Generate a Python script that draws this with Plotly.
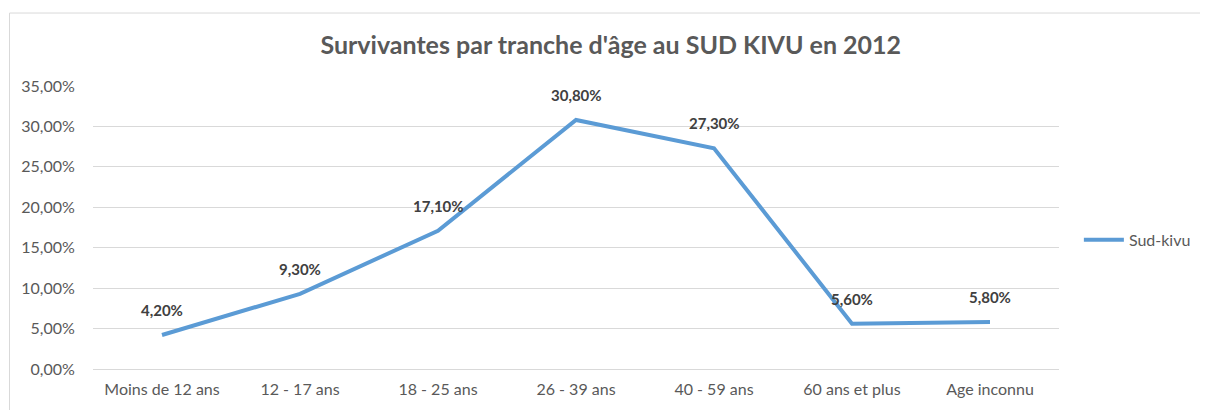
import plotly.graph_objects as go

categories = ["Moins de 12 ans", "12 - 17 ans", "18 - 25 ans", "26 - 39 ans",
              "40 - 59 ans", "60 ans et plus", "Age inconnu"]
values = [0.042, 0.093, 0.171, 0.308, 0.273, 0.056, 0.058]
series_name = "Sud-kivu"
title = "Survivantes par tranche d'âge au SUD KIVU en 2012"

FONT = "Lato, 'Open Sans', sans-serif"
GREY = "#595959"

# page body has an 8px margin; compensate
OFF = 8
W, H = 1208 - OFF, 410 - OFF
L, R_EDGE, T, B_EDGE = 93 - OFF, 1065 - OFF, 86 - OFF, 373 - OFF
PW, PH = R_EDGE - L, B_EDGE - T

fig = go.Figure()
fig.add_trace(go.Scatter(
    x=categories, y=values, mode="lines", name=series_name,
    line=dict(color="#5B9BD5", width=4),
))

for c, v in zip(categories, values):
    fig.add_annotation(
        x=c, y=v, text="<b>" + f"{v*100:.2f}".replace(".", ",") + "%</b>",
        showarrow=False, yshift=25, font=dict(size=15, color="#404040", family=FONT),
    )

fig.add_shape(type="rect", xref="paper", yref="paper",
              x0=(9 - OFF - L) / PW, x1=1.3, y0=-0.3, y1=(B_EDGE - (12 - OFF)) / PH,
              line=dict(color="#D9D9D9", width=1), fillcolor="rgba(0,0,0,0)", layer="below")

fig.update_layout(
    width=W, height=H,
    margin=dict(l=L, r=W - R_EDGE, t=T, b=H - B_EDGE),
    paper_bgcolor="white", plot_bgcolor="white",
    separators=", ",
    title=dict(text="<b>" + title + "</b>", x=(614 - OFF - L) / PW, xref="paper", xanchor="center",
               y=(H - (45 - OFF)) / H, yanchor="middle", font=dict(size=25, color=GREY, family=FONT)),
    font=dict(family=FONT, color=GREY, size=16),
    showlegend=True,
    legend=dict(x=(1085 - OFF - L) / PW, y=(B_EDGE - (242 - OFF)) / PH, xanchor="left", yanchor="middle",
                font=dict(size=16, color=GREY, family=FONT), itemwidth=40,
                bgcolor="rgba(0,0,0,0)"),
    xaxis=dict(type="category", range=[-0.5, 6.5], showgrid=False, showline=True,
               linecolor="#D9D9D9", linewidth=1, ticks="outside", ticklen=6,
               tickcolor="rgba(0,0,0,0)", tickfont=dict(size=16, color=GREY)),
    yaxis=dict(range=[0, 0.35], dtick=0.05, tickformat=".2%", showgrid=True,
               gridcolor="#D9D9D9", gridwidth=1, zeroline=False, showline=False,
               ticks="outside", ticklen=14, tickcolor="rgba(0,0,0,0)",
               tickfont=dict(size=16, color=GREY)),
)

fig.write_html("out.html")
